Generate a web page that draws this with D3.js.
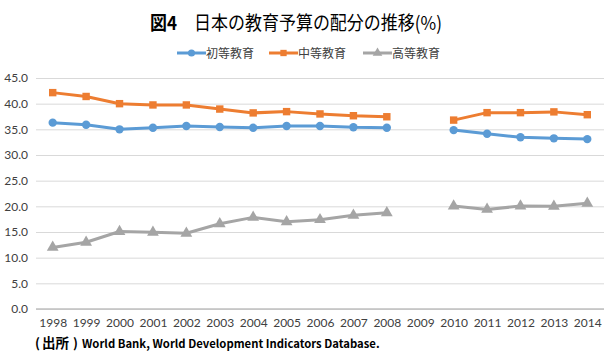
<!DOCTYPE html>
<html>
<head>
<meta charset="utf-8">
<script src="https://cdn.jsdelivr.net/npm/d3@7"></script>
<style>
  body { margin: 0; background: #fff; }
  svg { display: block; }
</style>
</head>
<body>
<svg id="chart" width="613" height="364"></svg>
<script>
// data (2009 has no value)
const years = ['1998', '1999', '2000', '2001', '2002', '2003', '2004', '2005', '2006', '2007', '2008', '2009', '2010', '2011', '2012', '2013', '2014'];
const primary = [36.3, 35.9, 35.0, 35.3, 35.65, 35.45, 35.3, 35.65, 35.65, 35.4, 35.3, null, 34.85, 34.15, 33.45, 33.25, 33.1];
const secondary = [42.15, 41.4, 40.0, 39.75, 39.75, 38.95, 38.2, 38.45, 38.0, 37.65, 37.45, null, 36.8, 38.25, 38.25, 38.4, 37.85];
const tertiary = [12.0, 13.0, 15.1, 14.95, 14.75, 16.6, 17.85, 17.0, 17.4, 18.25, 18.75, null, 20.05, 19.4, 20.05, 20.0, 20.6];
const seriesNames = ['初等教育', '中等教育', '高等教育'];
const yTicks = [0, 5, 10, 15, 20, 25, 30, 35, 40, 45];

const colors = ['#5b9bd5', '#ed7d31', '#a5a5a5'];
const markers = [d3.symbolCircle, d3.symbolSquare, d3.symbolTriangle];
const numFont = 'Lato, "Open Sans", sans-serif';
const jpFont = '"Noto Sans CJK JP", sans-serif';

const svg = d3.select('#chart');

const x = d3.scalePoint().domain(years).range([36, 604]).padding(0.5);
const y = d3.scaleLinear().domain([0, 45]).range([309, 78]);

// title: 図4 bold, the rest regular, glyphs a bit tall like the original
const title = svg.append('text')
    .attr('transform', 'translate(150,30) scale(1,1.12)')
    .attr('font-family', jpFont)
    .attr('font-size', '17px')
    .attr('fill', '#000');
title.append('tspan').attr('font-weight', 'bold').text('図4');
title.append('tspan').attr('dx', 17).text('日本の教育予算の配分の推移(%)');

// gridlines
const yAxis = d3.axisLeft(y).tickValues(yTicks).tickFormat(d3.format('.1f'))
    .tickSize(-(604 - 36)).tickPadding(8);
const gy = svg.append('g').attr('transform', 'translate(36,0)').call(yAxis);
gy.select('.domain').remove();
gy.selectAll('.tick line').attr('stroke', '#d9d9d9').attr('stroke-width', 1);
gy.selectAll('.tick text')
    .attr('font-family', numFont).attr('font-size', '12px').attr('fill', '#404040');

// x axis
const xAxis = d3.axisBottom(x).tickSize(0).tickPadding(9);
const gx = svg.append('g').attr('transform', 'translate(0,309)').call(xAxis);
gx.select('.domain').attr('stroke', '#bfbfbf').attr('stroke-width', 1.5)
    .attr('d', 'M36,0H604');
gx.selectAll('.tick text')
    .attr('font-family', numFont).attr('font-size', '12px').attr('fill', '#404040');

// series
const allSeries = [primary, secondary, tertiary];
const line = d3.line()
    .defined(d => d.v != null)
    .x(d => x(d.year))
    .y(d => y(d.v));

allSeries.forEach((vals, si) => {
    const pts = years.map((yr, i) => ({ year: yr, v: vals[i] }));
    svg.append('path')
        .datum(pts)
        .attr('fill', 'none')
        .attr('stroke', colors[si])
        .attr('stroke-width', 3)
        .attr('stroke-linejoin', 'round')
        .attr('d', line);
    svg.append('g').selectAll('path')
        .data(pts.filter(d => d.v != null))
        .enter().append('path')
        .attr('transform', d => `translate(${x(d.year)},${y(d.v)})`)
        .attr('d', d3.symbol().type(markers[si]).size(si == 2 ? 60 : 55))
        .attr('fill', colors[si]);
});

// legend
const legendX = [177, 269, 363];
seriesNames.forEach((name, i) => {
    const g = svg.append('g').attr('transform', `translate(${legendX[i]},53)`);
    g.append('line').attr('x1', 0).attr('x2', 29).attr('y1', 0).attr('y2', 0)
        .attr('stroke', colors[i]).attr('stroke-width', 3);
    g.append('path').attr('transform', 'translate(14.5,0)')
        .attr('d', d3.symbol().type(markers[i]).size(40))
        .attr('fill', colors[i]);
    g.append('text').attr('x', 29).attr('y', 4.5)
        .attr('font-family', jpFont).attr('font-size', '12px').attr('fill', '#404040')
        .text(name);
});

// source note
const note = svg.append('text')
    .attr('y', 348)
    .attr('font-family', jpFont)
    .attr('font-weight', 'bold')
    .attr('fill', '#000');
note.append('tspan').attr('x', 35).attr('font-size', '13px').text('(');
note.append('tspan').attr('x', 42).attr('font-size', '13.5px').text('出所');
note.append('tspan').attr('x', 73).attr('font-size', '13px').text(')');
note.append('tspan').attr('x', 82).attr('font-size', '11.3px')
    .text('World Bank, World Development Indicators Database.');
</script>
</body>
</html>
